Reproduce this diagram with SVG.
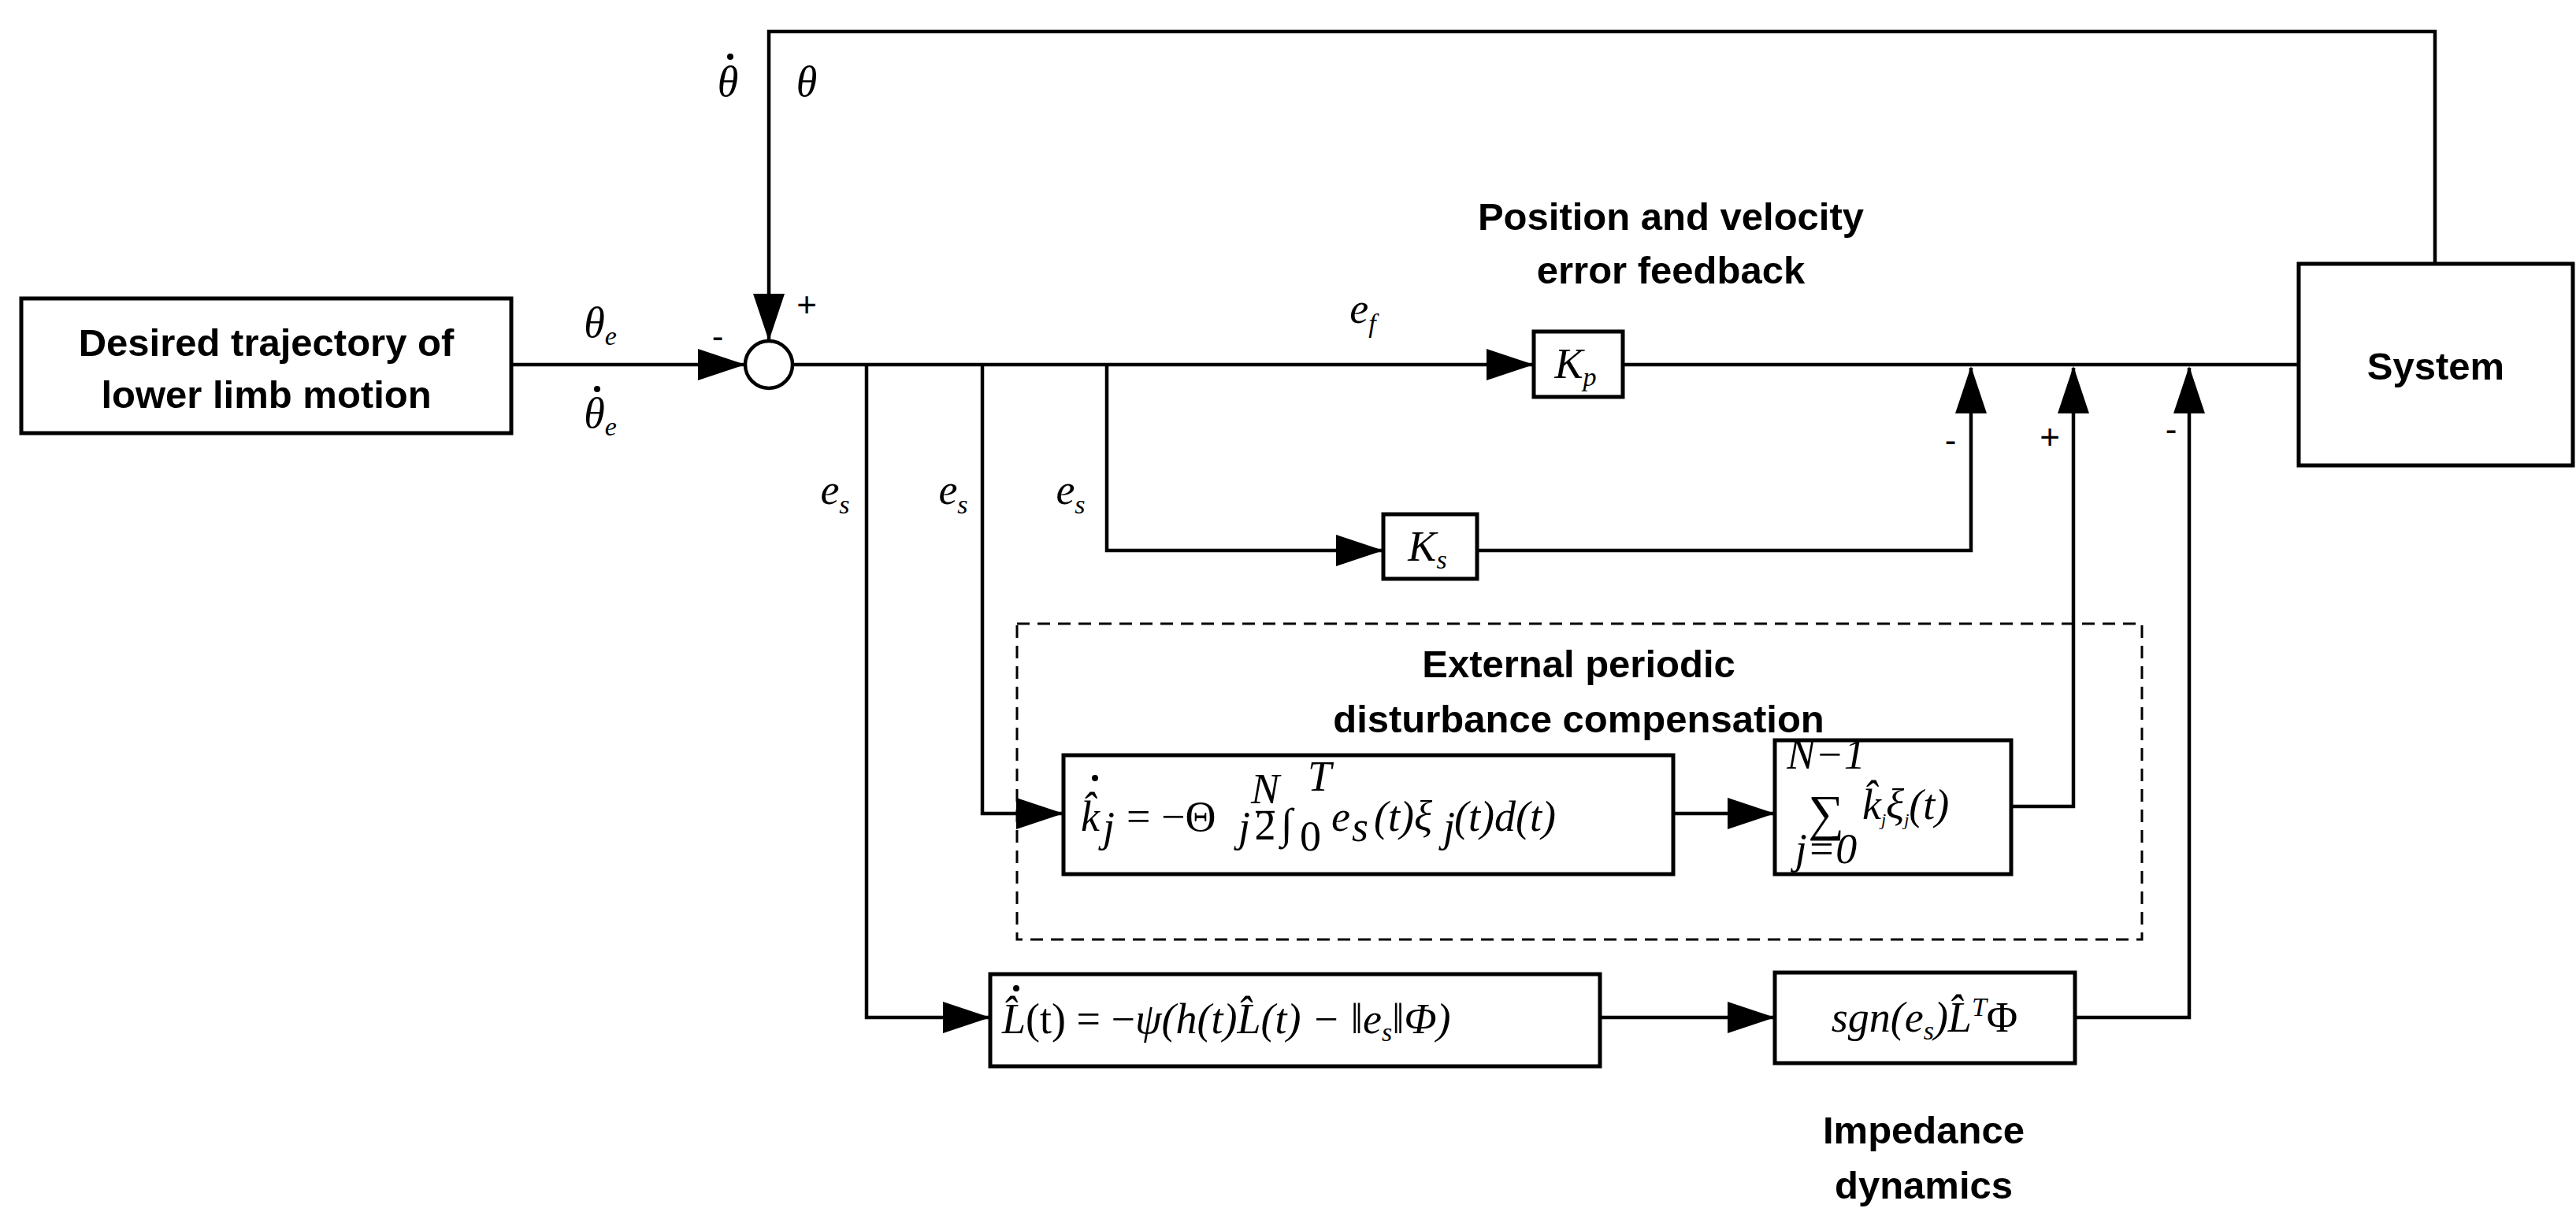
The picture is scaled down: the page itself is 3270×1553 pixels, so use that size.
<svg xmlns="http://www.w3.org/2000/svg" width="3270" height="1553" viewBox="0 0 3270 1553">
<style>
.box{fill:#fff;stroke:#000;stroke-width:5}
.ln{fill:none;stroke:#000;stroke-width:4.5}
.lb{font-family:"Liberation Sans",Arial,sans-serif;font-weight:bold;font-size:49px;text-anchor:middle}
.m{font-family:"Liberation Serif","Times New Roman",serif;font-style:italic;font-size:54px}
.n{font-family:"Liberation Serif","Times New Roman",serif;font-size:54px}
.s{font-family:"Liberation Sans",Arial,sans-serif;font-size:44px;text-anchor:middle}
</style>
<defs>
<marker id="ar" markerUnits="userSpaceOnUse" markerWidth="60" markerHeight="40" refX="58" refY="20" orient="auto">
<path d="M0,0 L60,20 L0,40 z" fill="#000"/>
</marker>
</defs>
<g id="connectors">
<path class="ln" d="M649,463 H944" marker-end="url(#ar)"/>
<path class="ln" d="M3091,335 V40 H976 V431" marker-end="url(#ar)"/>
<path class="ln" d="M1006,463 H1945" marker-end="url(#ar)"/>
<path class="ln" d="M2060,463 H2918"/>
<path class="ln" d="M1405,463 V699 H1754" marker-end="url(#ar)"/>
<path class="ln" d="M1875,699 H2502 V467" marker-end="url(#ar)"/>
<path class="ln" d="M1247,463 V1033 H1348" marker-end="url(#ar)"/>
<path class="ln" d="M2124,1033 H2251" marker-end="url(#ar)"/>
<path class="ln" d="M2553,1024 H2632 V467" marker-end="url(#ar)"/>
<path class="ln" d="M1100,463 V1292 H1255" marker-end="url(#ar)"/>
<path class="ln" d="M2031,1292 H2251" marker-end="url(#ar)"/>
<path class="ln" d="M2634,1292 H2779 V467" marker-end="url(#ar)"/>
</g>
<g id="labels">
<text class="m" x="924" y="122" text-anchor="middle">θ</text><circle cx="927" cy="72" r="4"/>
<text class="m" x="1024" y="122" text-anchor="middle">θ</text>
<text class="m" x="762" y="428" text-anchor="middle">θ<tspan font-size="34" dy="10">e</tspan></text>
<text class="m" x="762" y="543" text-anchor="middle">θ<tspan font-size="34" dy="10">e</tspan></text><circle cx="758" cy="494" r="4"/>
<text class="s" x="911" y="442">-</text>
<text class="s" x="1024" y="402">+</text>
<text class="m" x="1060" y="640" text-anchor="middle">e<tspan font-size="34" dy="12">s</tspan></text>
<text class="m" x="1210" y="640" text-anchor="middle">e<tspan font-size="34" dy="12">s</tspan></text>
<text class="m" x="1359" y="640" text-anchor="middle">e<tspan font-size="34" dy="12">s</tspan></text>
<text class="m" x="1730" y="410" text-anchor="middle">e<tspan font-size="34" dy="12">f</tspan></text>
<text class="s" x="2476" y="574">-</text>
<text class="s" x="2602" y="570">+</text>
<text class="s" x="2756" y="560">-</text>
<text class="lb" x="2121" y="292">Position and velocity</text>
<text class="lb" x="2121" y="360">error feedback</text>
<text class="lb" x="2004" y="860">External periodic</text>
<text class="lb" x="2004" y="930">disturbance compensation</text>
<text class="lb" x="2442" y="1452">Impedance</text>
<text class="lb" x="2442" y="1522">dynamics</text>
</g>
<rect id="ext-group" x="1291" y="792" width="1428" height="401" fill="none" stroke="#000" stroke-width="3" stroke-dasharray="16,10"/>
<g id="desired"><rect class="box" x="27" y="379" width="622" height="171"/>
<text class="lb" x="338" y="452">Desired trajectory of</text><text class="lb" x="338" y="518">lower limb motion</text></g>
<g id="sum"><circle cx="976" cy="463" r="30" fill="#fff" stroke="#000" stroke-width="4.5"/></g>
<g id="kp"><rect class="box" x="1947" y="421" width="113" height="83"/>
<text class="m" x="2000" y="480" text-anchor="middle">K<tspan font-size="34" dy="10">p</tspan></text></g>
<g id="ks"><rect class="box" x="1756" y="653" width="119" height="82"/>
<text class="m" x="1812" y="712" text-anchor="middle">K<tspan font-size="34" dy="10">s</tspan></text></g>
<g id="system"><rect class="box" x="2918" y="335" width="348" height="256"/>
<text class="lb" x="3092" y="482">System</text></g>
<g id="kdot"><rect class="box" x="1350" y="959" width="774" height="151"/>
<text class="m" x="1372" y="1055">k̂</text><circle cx="1390" cy="988" r="4"/>
<text class="m" x="1400" y="1068" font-size="32">j</text>
<text class="n" x="1430" y="1055">= −Θ</text>
<text class="m" x="1572" y="1068" font-size="32">j</text>
<text class="m" x="1606" y="1020" font-size="32" text-anchor="middle">N</text>
<line x1="1594" y1="1031" x2="1618" y2="1031" stroke="#000" stroke-width="2.5"/>
<text class="n" x="1606" y="1066" font-size="32" text-anchor="middle">2</text>
<text class="n" x="1626" y="1064" font-size="66">∫</text>
<text class="m" x="1660" y="1004" font-size="32">T</text>
<text class="n" x="1650" y="1080" font-size="32">0</text>
<text class="m" x="1690" y="1055">e</text>
<text class="m" x="1716" y="1068" font-size="32">s</text>
<text class="m" x="1744" y="1055">(t)ξ</text>
<text class="m" x="1832" y="1068" font-size="32">j</text>
<text class="m" x="1846" y="1055">(t)d(t)</text></g>
<g id="sigma"><rect class="box" x="2253" y="940" width="300" height="170"/>
<text class="m" x="2318" y="976" font-size="24" text-anchor="middle">N−1</text>
<text x="2318" y="1054" font-family="Liberation Serif,serif" font-size="64" text-anchor="middle">∑</text>
<text class="m" x="2318" y="1096" font-size="24" text-anchor="middle">j=0</text>
<text class="m" x="2364" y="1040" font-size="36">k̂<tspan font-size="22" dy="8">j</tspan><tspan dy="-8">ξ</tspan><tspan font-size="22" dy="8">j</tspan><tspan dy="-8">(t)</tspan></text></g>
<g id="ldot"><rect class="box" x="1257" y="1237" width="774" height="117"/>
<text class="m" x="1272" y="1312">L̂<tspan font-style="normal">(t) = −</tspan>ψ(h(t)L̂(t) − ‖e<tspan font-size="34" dy="10">s</tspan><tspan dy="-10">‖Φ)</tspan></text><circle cx="1290" cy="1255" r="4"/></g>
<g id="sgn"><rect class="box" x="2253" y="1235" width="381" height="115"/>
<text class="m" x="2443" y="1310" text-anchor="middle">sgn(e<tspan font-size="34" dy="10">s</tspan><tspan dy="-10">)L̂</tspan><tspan font-size="34" dy="-20">T</tspan><tspan dy="20" font-style="normal">Φ</tspan></text></g>
</svg>
